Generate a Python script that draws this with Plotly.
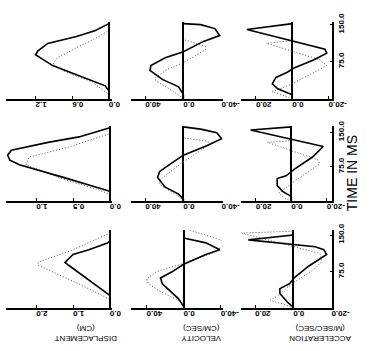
import plotly.graph_objects as go

# ---------------- data (time in ms, values) ----------------
# Displacement (cm)
d1_solid_t = [0, 16, 26, 43, 67, 89, 97, 112, 126, 138, 152]
d1_solid_v = [0, 0, 0.06, 0.41, 0.92, 1.20, 1.16, 1.0, 0.53, 0.22, 0]
d1_dot_t = [0, 8, 34, 53, 69, 83, 106, 122, 138]
d1_dot_v = [0, 0, 0.27, 0.69, 0.92, 0.84, 0.48, 0.22, 0]

d2_solid_t = [0, 21, 51, 79, 89, 100, 111, 128, 140, 160]
d2_solid_v = [0, 0, 0.62, 1.23, 1.36, 1.39, 1.34, 0.84, 0.42, 0]
d2_dot_t = [0, 15, 26, 47, 79, 96, 117, 147]
d2_dot_v = [0, 0, 0.19, 0.62, 1.14, 1.10, 0.58, 0]

d3_solid_t = [0, 26, 88, 94, 110, 120, 134, 138]
d3_solid_v = [0, 0, 1.12, 1.22, 1.0, 0.57, 0.05, 0]
d3_dot_t = [0, 18, 50, 88, 94, 120, 154]
d3_dot_v = [0, 0, 0.85, 1.95, 1.95, 1.0, 0]

# Velocity (cm/sec)
v1_solid_t = [0, 8, 24, 39, 57, 67, 83, 95, 116, 128, 142, 150, 152]
v1_solid_v = [0, 0, 5, 22, 35, 34, 19, 0, -21, -38, -33, -18, 0]
v1_dot_t = [0, 10, 37, 43, 59, 73, 99, 106, 120]
v1_dot_v = [0, 7, 29, 29, 17, 0, -23, -23, 0]

v2_solid_t = [0, 4, 15, 30, 51, 64, 79, 100, 121, 136, 149, 157, 162]
v2_solid_v = [0, 0, 5, 19, 27, 25, 15, 0, -25, -40, -35, -18, 0]
v2_dot_t = [0, 9, 36, 47, 83, 121, 130, 138]
v2_dot_v = [0, 4, 25, 24, 2, -26, -26, 0]

v3_solid_t = [0, 4, 20, 50, 62, 74, 90, 110, 120, 134, 144]
v3_solid_v = [0, 0, 6, 23, 25, 13, 0, -24, -39, -24, 0]
v3_dot_t = [0, 14, 34, 50, 60, 74, 92, 112, 130, 140, 152, 164]
v3_dot_v = [0, 3, 25, 38, 40, 30, 0, -30, -45, -40, -20, 0]

# Acceleration (m/sec/sec)
a1_solid_t = [0, 8, 20, 30, 43, 53, 62, 79, 92, 100, 140, 152]
a1_solid_v = [0, 0, 8, 11, 9, 3, -1, -12, -19, -18, 25, 0]
a1_dot_t = [0, 4, 14, 30, 67, 79, 112, 118]
a1_dot_v = [0, 3, 11, 0, -19, -15, 14, 0]

a2_solid_t = [0, 10, 21, 34, 49, 55, 70, 96, 119, 155, 162]
a2_solid_v = [0, 0, 5, 8, 8, 3, -2, -12, -18, 23, 0]
a2_dot_t = [0, 6, 17, 38, 81, 90, 128, 132]
a2_dot_v = [0, 4, 7, 0, -16, -15, 13.5, 0]

a3_solid_t = [0, 2, 12, 30, 40, 50, 62, 86, 110, 120, 126, 140, 150]
a3_solid_v = [0, 0, 3, 7, 7, 2, -0.5, -8, -17.5, -16, -11.5, 23.5, 0]
a3_dot_t = [0, 4, 16, 26, 52, 80, 96, 112, 154, 158]
a3_dot_v = [0, 2, 12, 8, 0, -11, -15, -14, 27, 0]

disp_ticks = [[0, 0.6, 1.2], [0, 0.5, 1.0], [0, 1.0, 2.0]]
disp_ticktext = [["0.0", "0.6", "1.2"], ["0.0", "0.5", "1.0"], ["0.0", "1.0", "2.0"]]
vel_ticks = [40, 0, -40]
vel_ticktext = ["40.0", "0.0", "-40.0"]
acc_ticks = [20, 0, -20]
acc_ticktext = ["20.0", "0.0", "-20.0"]
time_ticks = [75, 150]
time_ticktext = ["75.0", "150.0"]

col_labels = ["DISPLACEMENT<br>(CM)", "VELOCITY<br>(CM/SEC)", "ACCELERATION<br>(M/SEC/SEC)"]
time_label = "TIME IN MS"

# ---------------- layout geometry ----------------
W, H = 379, 351
col_px = [(6, 117), (137, 233), (252, 348)]
row_px = [(13, 92), (120, 197), (227, 307)]
row_tmax = [156, 164, 160]
x_ranges = [
    [[1.6875, -0.047], [55, -41], [28.4, -22.1]],
    [[1.416, -0.026], [55, -41], [28.6, -23.2]],
    [[2.83, -0.052], [57, -42], [27.5, -20.5]],
]

series = [
    [(d1_solid_t, d1_solid_v, d1_dot_t, d1_dot_v),
     (v1_solid_t, v1_solid_v, v1_dot_t, v1_dot_v),
     (a1_solid_t, a1_solid_v, a1_dot_t, a1_dot_v)],
    [(d2_solid_t, d2_solid_v, d2_dot_t, d2_dot_v),
     (v2_solid_t, v2_solid_v, v2_dot_t, v2_dot_v),
     (a2_solid_t, a2_solid_v, a2_dot_t, a2_dot_v)],
    [(d3_solid_t, d3_solid_v, d3_dot_t, d3_dot_v),
     (v3_solid_t, v3_solid_v, v3_dot_t, v3_dot_v),
     (a3_solid_t, a3_solid_v, a3_dot_t, a3_dot_v)],
]

FONT = "Liberation Sans"
fig = go.Figure()
layout = dict(
    width=W, height=H, autosize=False,
    margin=dict(l=0, r=0, t=0, b=0),
    paper_bgcolor="white", plot_bgcolor="white",
    showlegend=False,
    font=dict(family=FONT, color="black", size=8),
)

for r in range(3):
    for c in range(3):
        i = r * 3 + c + 1
        xa = "x" if i == 1 else f"x{i}"
        ya = "y" if i == 1 else f"y{i}"
        st, sv, dt, dv = series[r][c]
        fig.add_trace(go.Scatter(x=dv, y=dt, mode="lines", xaxis=xa, yaxis=ya,
                                 line=dict(color="#555555", width=1, dash="1px,2px")))
        fig.add_trace(go.Scatter(x=sv, y=st, mode="lines", xaxis=xa, yaxis=ya,
                                 line=dict(color="black", width=1.6)))
        if c == 0:
            tv, tt = disp_ticks[r], disp_ticktext[r]
        elif c == 1:
            tv, tt = vel_ticks, vel_ticktext
        else:
            tv, tt = acc_ticks, acc_ticktext
        x0, x1 = col_px[c]
        y0, y1 = row_px[r]
        xkey = "xaxis" if i == 1 else f"xaxis{i}"
        ykey = "yaxis" if i == 1 else f"yaxis{i}"
        layout[xkey] = dict(
            domain=[x0 / W, x1 / W], anchor=ya, range=x_ranges[r][c],
            showline=True, linecolor="black", linewidth=1.5,
            ticks="inside", ticklen=3, tickcolor="black", tickwidth=1,
            tickvals=tv, ticktext=tt, tickangle=180,
            tickfont=dict(family=FONT, size=8, color="black", weight="bold"),
            zeroline=True, zerolinecolor="black", zerolinewidth=1.5,
            showgrid=False, fixedrange=True,
        )
        yd = dict(
            domain=[1 - y1 / H, 1 - y0 / H], anchor=xa, range=[0, row_tmax[r]],
            showgrid=False, zeroline=False, fixedrange=True,
        )
        if c == 2:
            yd.update(side="right", showline=True, linecolor="black", linewidth=1.5,
                      ticks="inside", ticklen=3, tickcolor="black",
                      tickvals=time_ticks, ticktext=time_ticktext, tickangle=-90,
                      tickfont=dict(family=FONT, size=8, color="black", weight="bold"))
        else:
            yd.update(showline=False, showticklabels=False, ticks="")
        layout[ykey] = yd

ann = []
label_x = [90, 211, 335]
for c in range(3):
    ann.append(dict(text=col_labels[c], x=label_x[c] / W, y=1 - 333 / H,
                    xref="paper", yref="paper", showarrow=False, textangle=180,
                    font=dict(family=FONT, size=8, color="black"),
                    xanchor="center", yanchor="middle"))
ann.append(dict(text=time_label, x=368 / W, y=1 - 168 / H, xref="paper", yref="paper",
                showarrow=False, textangle=-90,
                font=dict(family=FONT, size=14, color="black"),
                xanchor="center", yanchor="middle"))
layout["annotations"] = ann

fig.update_layout(**layout)
fig.write_html("out.html")
